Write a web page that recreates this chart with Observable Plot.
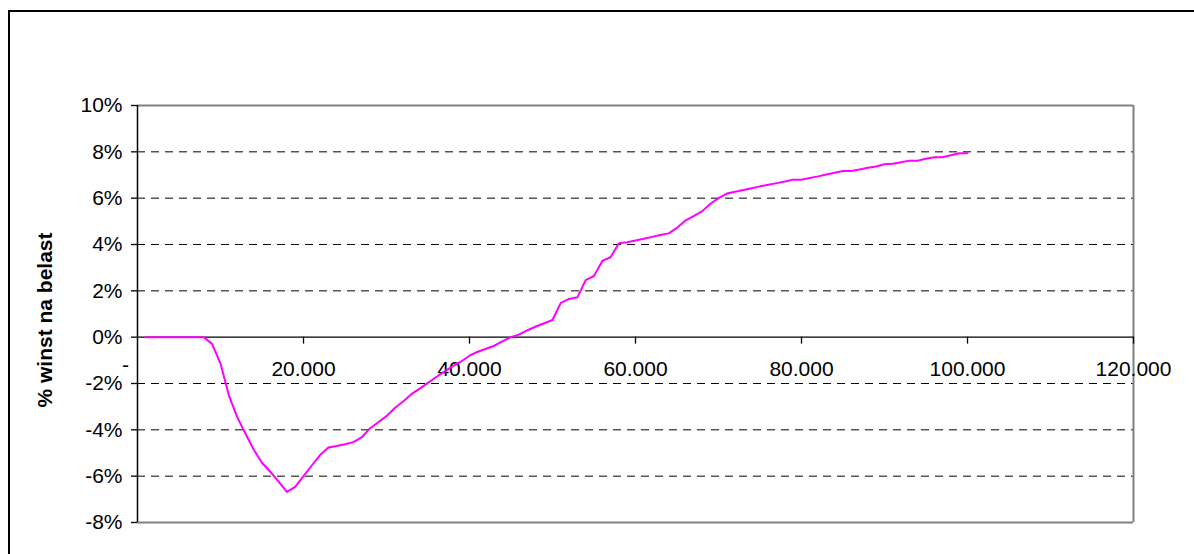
<!DOCTYPE html>
<html>
<head>
<meta charset="utf-8">
<script src="https://cdn.jsdelivr.net/npm/d3@7"></script>
<script src="https://cdn.jsdelivr.net/npm/@observablehq/plot@0.6"></script>
<style>
  html, body { margin: 0; padding: 0; background: #fff; }
  #chart { width: 1194px; height: 554px; overflow: hidden; }
</style>
</head>
<body>
<div id="chart"></div>
<script>
// Inkomen (x) en % winst na belasting (y)
const inkomen = [
  1000, 2000, 3000, 4000, 5000, 6000, 7000, 8000, 9000, 10000,
  11000, 12000, 13000, 14000, 15000, 16000, 17000, 18000, 19000, 20000,
  21000, 22000, 23000, 24000, 25000, 26000, 27000, 28000, 29000, 30000,
  31000, 32000, 33000, 34000, 35000, 36000, 37000, 38000, 39000, 40000,
  41000, 42000, 43000, 44000, 45000, 46000, 47000, 48000, 49000, 50000,
  51000, 52000, 53000, 54000, 55000, 56000, 57000, 58000, 59000, 60000,
  61000, 62000, 63000, 64000, 65000, 66000, 67000, 68000, 69000, 70000,
  71000, 72000, 73000, 74000, 75000, 76000, 77000, 78000, 79000, 80000,
  81000, 82000, 83000, 84000, 85000, 86000, 87000, 88000, 89000, 90000,
  91000, 92000, 93000, 94000, 95000, 96000, 97000, 98000, 99000, 100000
];
const winstNaBelasting = [
  0, 0, 0, 0, 0, 0, 0, 0, -0.30, -1.14,
  -2.50, -3.44, -4.16, -4.85, -5.42, -5.81, -6.24, -6.68, -6.46, -6.00,
  -5.54, -5.09, -4.76, -4.70, -4.62, -4.53, -4.33, -3.94, -3.67, -3.41,
  -3.06, -2.78, -2.46, -2.22, -1.97, -1.72, -1.48, -1.25, -1.05, -0.80,
  -0.63, -0.50, -0.37, -0.17, 0.00, 0.12, 0.30, 0.46, 0.60, 0.74,
  1.48, 1.65, 1.72, 2.46, 2.64, 3.29, 3.45, 4.05, 4.10, 4.17,
  4.25, 4.33, 4.41, 4.48, 4.72, 5.03, 5.22, 5.43, 5.75, 6.00,
  6.20, 6.28, 6.35, 6.43, 6.51, 6.58, 6.65, 6.72, 6.80, 6.80,
  6.87, 6.94, 7.02, 7.10, 7.17, 7.17, 7.24, 7.31, 7.37, 7.46,
  7.49, 7.55, 7.62, 7.62, 7.70, 7.77, 7.77, 7.85, 7.94, 7.94
];
const yTicks = [-8, -6, -4, -2, 0, 2, 4, 6, 8, 10];
const gridTicks = [-6, -4, -2, 2, 4, 6, 8];
const xTicks = [20000, 40000, 60000, 80000, 100000, 120000];
const yLabel = "% winst na belast";

const data = inkomen.map((x, i) => ({x, y: winstNaBelasting[i]}));
const nl = d3.formatLocale({decimal: ",", thousands: ".", grouping: [3], currency: ["", ""]});
const fmtX = nl.format(",");

const chart = Plot.plot({
  width: 1194,
  height: 554,
  marginLeft: 137,
  marginRight: 61,
  marginTop: 105,
  marginBottom: 32,
  style: {fontFamily: "'Liberation Sans', Arial, sans-serif", fontSize: "21px", color: "#000", background: "#fff"},
  x: {domain: [0, 120000], axis: null},
  y: {domain: [-8, 10], axis: null},
  marks: [
    Plot.ruleY(gridTicks, {stroke: "#000", strokeWidth: 1, strokeDasharray: "8,6"}),
    Plot.ruleY([10, -8], {stroke: "#808080", strokeWidth: 2}),
    Plot.ruleX([120000], {stroke: "#808080", strokeWidth: 2}),
    Plot.ruleY([0], {stroke: "#000", strokeWidth: 1.3}),
    Plot.ruleX(xTicks, {x: d => d, y1: 0, y2: -0.3, stroke: "#000", strokeWidth: 1.3}),
    Plot.ruleX([0], {stroke: "#000", strokeWidth: 1.5}),
    Plot.axisY({ticks: yTicks, tickFormat: d => d + "%", tickSize: 6, tickPadding: 9, fontSize: 21, stroke: "#000", strokeWidth: 1.3, label: null}),
    Plot.text(xTicks, {x: d => d, y: 0, dy: 32, text: d => fmtX(d), fontSize: 21, fill: "#000"}),
    Plot.text([0], {x: 0, y: 0, dx: -12, dy: 28, text: () => "-", fontSize: 21, fill: "#000"}),
    Plot.text([yLabel], {frameAnchor: "left", textAnchor: "middle", dx: -92, dy: 6, rotate: -90, text: d => d, fontSize: 21, fontWeight: "bold", fill: "#000"}),
    Plot.line(data, {x: "x", y: "y", stroke: "#FF00FF", strokeWidth: 2})
  ]
});

d3.select(chart).append("rect")
  .attr("x", 9).attr("y", 11)
  .attr("width", 1200).attr("height", 560)
  .attr("fill", "none").attr("stroke", "#000").attr("stroke-width", 2);

document.getElementById("chart").appendChild(chart);
</script>
</body>
</html>
